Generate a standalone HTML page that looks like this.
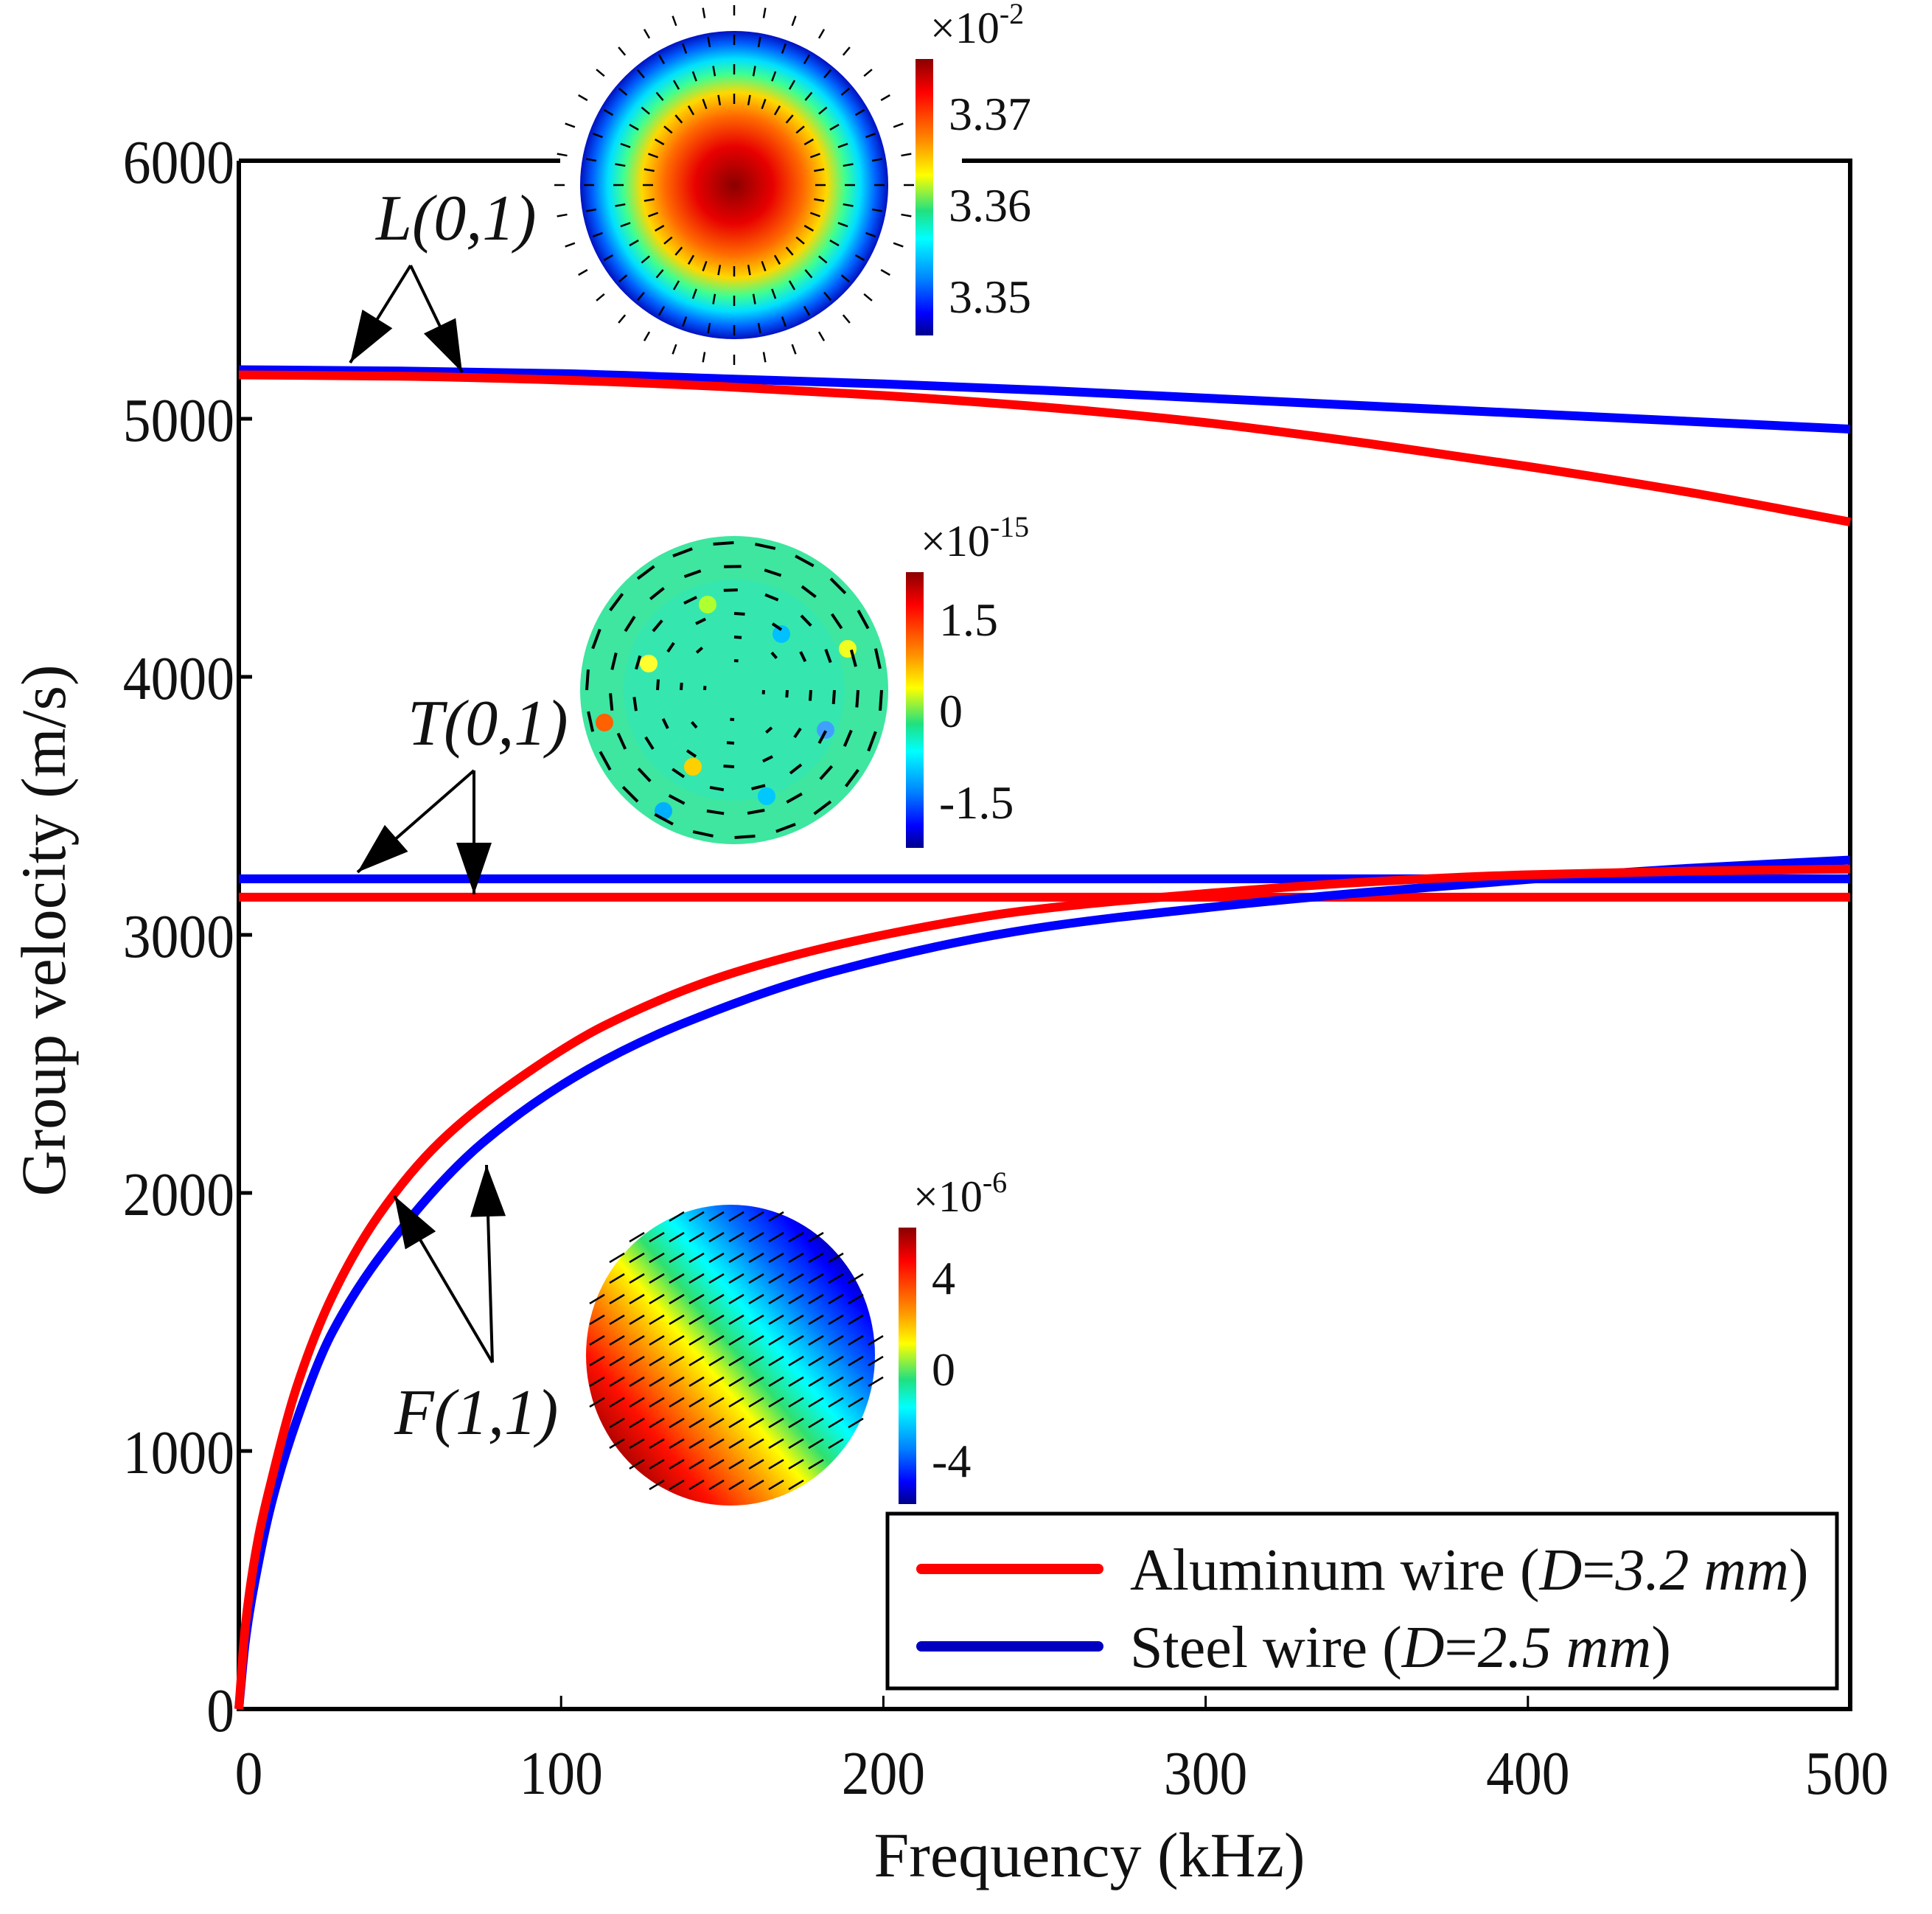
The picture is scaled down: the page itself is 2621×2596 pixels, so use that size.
<!DOCTYPE html>
<html><head><meta charset="utf-8">
<style>
html,body{margin:0;padding:0;background:#fff;}
svg{display:block;}
text{font-family:"Liberation Serif",serif;fill:#111;}
</style></head>
<body>
<svg id="chart" width="2621" height="2596" viewBox="0 0 2621 2596" xmlns="http://www.w3.org/2000/svg">
<defs>
<radialGradient id="jetR" cx="0.5" cy="0.5" r="0.5">
<stop offset="0" stop-color="#8a0000"/><stop offset="0.25" stop-color="#e80000"/><stop offset="0.45" stop-color="#ff6a00"/><stop offset="0.6" stop-color="#ffd800"/><stop offset="0.72" stop-color="#40ff90"/><stop offset="0.82" stop-color="#00e0ff"/><stop offset="0.92" stop-color="#0060ff"/><stop offset="1" stop-color="#0010c0"/>
</radialGradient>
<linearGradient id="jetV" x1="0" y1="0" x2="0" y2="1">
<stop offset="0" stop-color="#8a0000"/><stop offset="0.12" stop-color="#ff0000"/><stop offset="0.3" stop-color="#ff9000"/><stop offset="0.42" stop-color="#ffff00"/><stop offset="0.55" stop-color="#20e080"/><stop offset="0.65" stop-color="#00ffff"/><stop offset="0.8" stop-color="#0080ff"/><stop offset="0.92" stop-color="#0000ff"/><stop offset="1" stop-color="#00008a"/>
</linearGradient>
<linearGradient id="jetD" x1="0.1" y1="0.85" x2="0.9" y2="0.15">
<stop offset="0" stop-color="#a00000"/><stop offset="0.15" stop-color="#ff1000"/><stop offset="0.3" stop-color="#ff9000"/><stop offset="0.42" stop-color="#ffff00"/><stop offset="0.52" stop-color="#30e070"/><stop offset="0.63" stop-color="#00ffff"/><stop offset="0.78" stop-color="#0070ff"/><stop offset="0.92" stop-color="#0000ff"/><stop offset="1" stop-color="#0000a0"/>
</linearGradient>
</defs>
<g id="axes"></g>
<g id="series"></g>
<g id="insets"></g>
<g id="annot"></g>
<g id="legend"></g>
</svg>
<script>
// ---- data ----
const xTicks = [0,100,200,300,400,500];
const yTicks = [0,1000,2000,3000,4000,5000,6000];
const freqL = [0,50,100,150,200,250,300,350,400,450,500];
const alL   = [5170,5165,5150,5125,5090,5045,4985,4905,4815,4715,4600];
const stL   = [5190,5185,5175,5155,5135,5110,5080,5050,5020,4990,4960];
const freqT = [0,500];
const alT   = [3146,3146];
const stT   = [3217,3217];
const freqFal = [0,2,6,10,18,29,43.5,62.6,90,113.7,154,201.7,245,300,350,400,450,500];
const alF     = [0,320,660,880,1250,1600,1915,2200,2470,2650,2855,3004,3095,3160,3205,3233,3247,3255];
const freqFst = [0,2,6,10,18,29,53.4,75.6,108.5,137.5,184.6,246,300,350,400,450,500];
const stF     = [0,260,560,790,1120,1460,1905,2194,2480,2655,2858,3023,3105,3165,3215,3258,3290];

const NS="http://www.w3.org/2000/svg";
const X0=324,X1=2510,Y0=2318,Y1=218;
const sx=v=>X0+(v-0)/500*(X1-X0);
const sy=v=>Y0-(v-0)/6000*(Y0-Y1);
function mk(tag,attrs,parent){const e=document.createElementNS(NS,tag);for(const k in attrs)e.setAttribute(k,attrs[k]);parent.appendChild(e);return e;}

const axes=document.getElementById('axes');
let f;
f=mk('path',{d:`M${X0},${Y1} L${X0},${Y0} L${X1},${Y0} L${X1},${Y1} L1305,${Y1} M760,${Y1} L${X0},${Y1}`,fill:'none',stroke:'#000','stroke-width':6},axes);


xTicks.forEach(t=>{
  const x=sx(t);
  if(t>0&&t<500){const l=mk('line',{x1:x,y1:Y0,x2:x,y2:Y0-18,stroke:'#000','stroke-width':3},axes);
  
  }
  const tx=mk('text',{x:x+(t===0?15:t===500?-5:0),y:2433,'font-size':84,'text-anchor':'middle',transform:`translate(${x} 0) scale(0.9 1) translate(${-x} 0)`},axes);
  tx.textContent=t;
  
  
});
yTicks.forEach(t=>{
  const y=sy(t);
  if(t>0&&t<6000){const l=mk('line',{x1:X0,y1:y,x2:X0+18,y2:y,stroke:'#000','stroke-width':5},axes);
  
  }
  const tx=mk('text',{x:318,y:y+30,'font-size':84,'text-anchor':'end',transform:`translate(318 0) scale(0.9 1) translate(-318 0)`},axes);
  tx.textContent=t;
  
  
});
let t1=mk('text',{x:1478,y:2545,'font-size':86,'text-anchor':'middle'},axes);
t1.textContent='Frequency (kHz)';


let t2=mk('text',{x:0,y:0,'font-size':86,'text-anchor':'middle',transform:'translate(88 1262) rotate(-90)'},axes);
t2.textContent='Group velocity (m/s)';



// ---- series (monotone cubic interpolation) ----
const series=document.getElementById('series');
function monoPath(xs,ys){
  const n=xs.length;
  const px=xs.map(sx),py=ys.map(sy);
  if(n<3)return `M${px[0]},${py[0]} L${px[n-1]},${py[n-1]}`;
  const h=[],d=[];
  for(let i=0;i<n-1;i++){h.push(px[i+1]-px[i]);d.push((py[i+1]-py[i])/h[i]);}
  const m=new Array(n);
  m[0]=d[0];m[n-1]=d[n-2];
  for(let i=1;i<n-1;i++){
    if(d[i-1]*d[i]<=0)m[i]=0;
    else{const w1=2*h[i]+h[i-1],w2=h[i]+2*h[i-1];m[i]=(w1+w2)/(w1/d[i-1]+w2/d[i]);}
  }
  let s=`M${px[0]},${py[0]}`;
  for(let i=0;i<n-1;i++){
    s+=` C${px[i]+h[i]/3},${py[i]+m[i]*h[i]/3} ${px[i+1]-h[i]/3},${py[i+1]-m[i+1]*h[i]/3} ${px[i+1]},${py[i+1]}`;
  }
  return s;
}
function line(xs,ys,col,name){
  const e=mk('path',{d:monoPath(xs,ys),fill:'none',stroke:col,'stroke-width':12,'stroke-linejoin':'round'},series);
  
  
}
line(freqT,stT,'#0000ff','steel-t01-line');
line(freqT,alT,'#ff0000','aluminum-t01-line');
line(freqL,stL,'#0000ff','steel-l01-line');
line(freqL,alL,'#ff0000','aluminum-l01-line');
line(freqFst,stF,'#0000ff','steel-f11-line');
line(freqFal,alF,'#ff0000','aluminum-f11-line');

// ---- insets ----
const ins=document.getElementById('insets');
function colorbar(x,y1,y2,labels,exp,name){
  const g=mk('g',{},ins);
  
  
  mk('rect',{x:x,y:y1,width:24,height:y2-y1,fill:'url(#jetV)'},g);
  labels.forEach(l=>{const t=mk('text',{x:x+45,y:l[1],'font-size':64},g);t.textContent=l[0];});
  const t=mk('text',{x:x+20,y:y1-22,'font-size':60},g);
  t.innerHTML='×10<tspan font-size="40" dy="-26">'+exp+'</tspan>';
}
let c1=mk('circle',{cx:996,cy:251,r:209,fill:'url(#jetR)'},ins);


for(let i=0;i<36;i++){const a=i*Math.PI/18;for(let rr=110;rr<=235;rr+=40){
  mk('line',{x1:996+Math.cos(a)*rr,y1:251+Math.sin(a)*rr,x2:996+Math.cos(a)*(rr+14),y2:251+Math.sin(a)*(rr+14),stroke:'#000','stroke-width':2.5},ins);}}
colorbar(1242,80,455,[['3.37',176],['3.36',300],['3.35',424]],'-2','l01-colorbar');
let c2=mk('circle',{cx:996,cy:936,r:209,fill:'#3ee6a0'},ins);


mk('circle',{cx:996,cy:936,r:150,fill:'#30e8b8',opacity:0.6},ins);
const blobs=[[880,900,'#ffff30'],[1060,860,'#00c0ff'],[940,1040,'#ffd000'],[1120,990,'#40a0ff'],[820,980,'#ff6000'],[1040,1080,'#00c8ff'],[960,820,'#b0ff30'],[900,1100,'#00b0ff'],[1150,880,'#f0ff20']];
blobs.forEach(b=>mk('circle',{cx:b[0],cy:b[1],r:12,fill:b[2]},ins));
for(let rr=40;rr<=200;rr+=32){const n=Math.round(rr/9);for(let i=0;i<n;i++){const a=i*2*Math.PI/n;const b=a+0.14;
  mk('line',{x1:996+Math.cos(a)*rr,y1:936+Math.sin(a)*rr,x2:996+Math.cos(b)*rr,y2:936+Math.sin(b)*rr,stroke:'#000','stroke-width':4},ins);}}
colorbar(1229,776,1150,[['1.5',862],['0',986],['-1.5',1110]],'-15','t01-colorbar');
let c3=mk('ellipse',{cx:991,cy:1838,rx:196,ry:204,fill:'url(#jetD)'},ins);


for(let yy=1650;yy<=2030;yy+=28){for(let xx=810;xx<=1200;xx+=27){
  const dx=(xx-991)/196,dy=(yy-1838)/204;if(dx*dx+dy*dy>1.05)continue;
  mk('line',{x1:xx-10,y1:yy+6,x2:xx+10,y2:yy-6,stroke:'#000','stroke-width':2.5},ins);}}
colorbar(1219,1665,2040,[['4',1755],['0',1879],['-4',2003]],'-6','f11-colorbar');

// ---- annotations ----
const an=document.getElementById('annot');
function arrow(x1,y1,x2,y2){const e=mk('line',{x1,y1,x2,y2,stroke:'#000','stroke-width':4},an);
  const a=Math.atan2(y2-y1,x2-x1),L=70,W=24;
  mk('path',{d:`M${x2},${y2} L${x2-L*Math.cos(a)+W*Math.sin(a)},${y2-L*Math.sin(a)-W*Math.cos(a)} L${x2-L*Math.cos(a)-W*Math.sin(a)},${y2-L*Math.sin(a)+W*Math.cos(a)} z`,fill:'#000'},an);
  
  }
function label(txt,x,y,name){const t=mk('text',{x,y,'font-size':88,'font-style':'italic'},an);t.textContent=txt;
  
  }
label('L(0,1)',510,325,'l01-label');
arrow(557,360,475,492);arrow(557,360,627,505);
label('T(0,1)',553,1010,'t01-label');
arrow(643,1045,485,1183);arrow(643,1045,643,1213);
label('F(1,1)',535,1945,'f11-label');
arrow(668,1848,535,1622);arrow(668,1848,660,1580);

// ---- legend ----
const lg=document.getElementById('legend');
let box=mk('rect',{x:1204,y:2053,width:1288,height:237,fill:'#fff',stroke:'#000','stroke-width':5},lg);


function entry(y,col,txt,d,name){
  const g=mk('g',{},lg);
  
  
  mk('line',{x1:1250,y1:y,x2:1490,y2:y,stroke:col,'stroke-width':14,'stroke-linecap':'round'},g);
  const t=mk('text',{x:1533,y:y+28,'font-size':80},g);
  t.innerHTML=txt+' (<tspan font-style="italic">D</tspan>=<tspan font-style="italic">'+d+' mm</tspan>)';
}
entry(2128,'#ff0000','Aluminum wire','3.2','legend-entry-aluminum');
entry(2233,'#0000c0','Steel wire','2.5','legend-entry-steel');
</script>
</body></html>
